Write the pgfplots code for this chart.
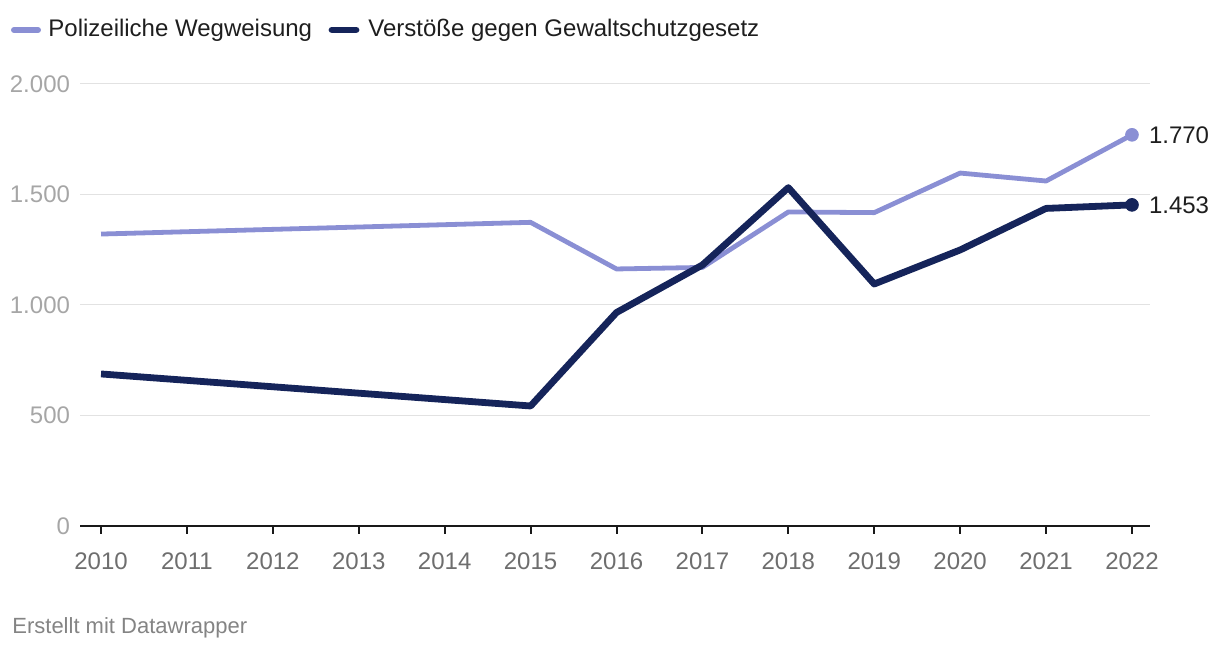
\documentclass[border=0pt]{standalone}
\usepackage{fontspec}
\setmainfont{Liberation Sans}
\usepackage{pgfplots}
\pgfplotsset{compat=1.18}

\definecolor{lightline}{HTML}{8A8FD4}
\definecolor{darkline}{HTML}{15245A}
\definecolor{gridgray}{HTML}{E2E2E2}
\definecolor{ylabgray}{HTML}{A6A6A6}
\definecolor{xlabgray}{HTML}{6E6E6E}
\definecolor{textdark}{HTML}{1E1E1E}

\begin{document}
\begin{tikzpicture}
\useasboundingbox (0,0) rectangle (610pt,326pt);
\begin{axis}[
    at={(40pt,63pt)}, anchor=south west,
    scale only axis, width=535pt, height=221pt,
    xmin=2009.755, xmax=2022.21,
    ymin=0, ymax=2000,
    axis lines*=left,
    y axis line style={draw=none},
    x axis line style={black!90, line width=1pt, -},
    clip=false,
    ytick={0,500,1000,1500,2000},
    xtick={2010,2011,2012,2013,2014,2015,2016,2017,2018,2019,2020,2021,2022},
    ymajorgrids, grid style={gridgray, line width=0.5pt},
    tick align=outside, major tick length=4pt,
    xtick style={black!90, line width=1pt},
    ytick style={draw=none},
    /pgf/number format/assume math mode=true,
    yticklabel style={/pgf/number format/1000 sep={.}, font=\fontsize{12}{14}\selectfont, text=ylabgray, xshift=2.5pt},
    xticklabel style={/pgf/number format/1000 sep={}, font=\fontsize{12}{14}\selectfont, text=xlabgray, yshift=-6pt},
]
% Polizeiliche Wegweisung
\addplot[lightline, line width=2.4pt, line join=round] coordinates {
    (2010,1321) (2015,1374) (2016,1163) (2017,1170) (2018,1421)
    (2019,1418) (2020,1597) (2021,1561) (2022,1770)};
% Verstöße gegen Gewaltschutzgesetz
\addplot[darkline, line width=3.4pt, line join=round] coordinates {
    (2010,688) (2015,543) (2016,966) (2017,1181) (2018,1531)
    (2019,1095) (2020,1249) (2021,1437) (2022,1453)};
\addplot[only marks, mark=*, mark size=3.2pt, lightline] coordinates {(2022,1770)};
\addplot[only marks, mark=*, mark size=3.2pt, darkline] coordinates {(2022,1453)};

\node[anchor=west, text=textdark, font=\fontsize{12}{14}\selectfont, xshift=5pt] at (axis cs:2022,1770) {1.770};
\node[anchor=west, text=textdark, font=\fontsize{12}{14}\selectfont, xshift=5pt] at (axis cs:2022,1453) {1.453};
\end{axis}

% legend
\draw[lightline, line width=3pt, line cap=round] (7pt,311pt) -- (19pt,311pt);
\node[anchor=west, text=textdark, font=\fontsize{12}{14}\selectfont, inner sep=0pt] at (24pt,311pt) {Polizeiliche Wegweisung};
\draw[darkline, line width=3.4pt, line cap=round] (166pt,311pt) -- (178pt,311pt);
\node[anchor=west, text=textdark, font=\fontsize{12}{14}\selectfont, inner sep=0pt] at (184pt,311pt) {Verstöße gegen Gewaltschutzgesetz};

% footer
\node[anchor=west, text=xlabgray!85, font=\fontsize{11}{13}\selectfont, inner sep=0pt] at (6pt,12pt) {Erstellt mit Datawrapper};
\end{tikzpicture}
\end{document}
